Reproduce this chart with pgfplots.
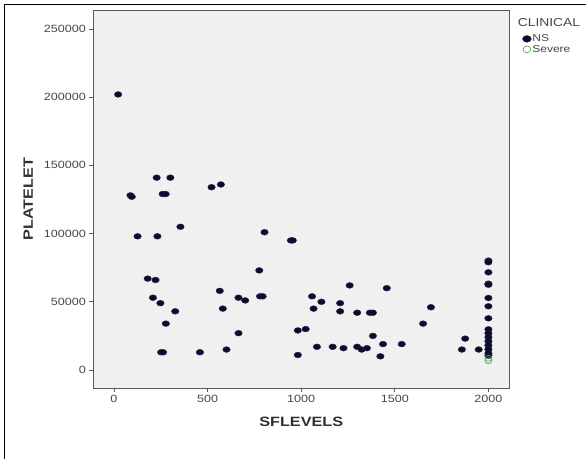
\documentclass[border=0pt]{standalone}
\usepackage{pgfplots}
\pgfplotsset{compat=1.18}
\usepackage{fontspec}
\setmainfont{Liberation Sans}[FakeStretch=1.2]
\definecolor{bg}{RGB}{240,240,240}
\definecolor{axgray}{RGB}{90,90,90}
\definecolor{txtgray}{RGB}{70,70,70}
\definecolor{nsdot}{RGB}{12,12,40}
\definecolor{nsedge}{RGB}{30,35,90}
\definecolor{sevgreen}{RGB}{80,175,80}
\begin{document}
\begin{tikzpicture}
\useasboundingbox (0,0) rectangle (586pt,-459pt);
\draw[black, line width=1pt] (4pt,-459pt) -- (4pt,-4pt) -- (586pt,-4pt);
\begin{axis}[
  at={(93.4pt,-388pt)}, anchor=south west,
  scale only axis, width=415.6pt, height=378pt,
  xmin=-110, xmax=2110, ymin=-13200, ymax=263900,
  axis background/.style={fill=bg},
  axis line style={axgray, line width=0.9pt},
  xtick pos=left, ytick pos=left,
  xtick={0,500,1000,1500,2000},
  ytick={0,50000,100000,150000,200000,250000},
  scaled ticks=false,
  /pgf/number format/.cd, fixed, 1000 sep={}, assume math mode=true, /pgfplots/.cd,
  tick align=outside, major tick length=4pt,
  tick style={axgray, line width=0.9pt},
  ticklabel style={font=\fontsize{10.5}{12}\selectfont, text=txtgray},
  xlabel={SFLEVELS}, ylabel={PLATELET},
  label style={font=\fontsize{13.5}{15}\selectfont\bfseries, text=txtgray!70!black},
  xlabel style={at={(axis description cs:0.5,-0.09)}, anchor=center},
  ylabel style={at={(axis description cs:-0.157,0.5)}, anchor=center},
  clip=false,
  legend style={draw=none, fill=none, at={(1.032,0.938)}, anchor=north west,
    font=\fontsize{10}{10}\selectfont, text=txtgray, row sep=0pt,
    inner sep=0pt, nodes={inner sep=1pt}},
  legend cell align=left,
  legend image code/.code={\draw[#1, mark size=3.4pt] plot coordinates {(0.12cm,0cm)};},
]
\addplot[only marks, mark=*, mark size=2.9pt,
  mark options={xscale=1.3, fill=nsdot, draw=nsedge, line width=0.4pt}]
  coordinates {
  (22,202000) (88,128000) (95,127000) (126,98000) (228,141000) (301,141000)
  (260,129000) (276,129000) (355,105000) (232,98000) (180,67000) (222,66000)
  (208,53000) (248,49000) (327,43000) (277,34000) (252,13000) (262,13000)
  (459,13000) (521,134000) (571,136000) (565,58000) (581,45000) (601,15000)
  (665,27000) (665,53000) (701,51000) (776,73000) (780,54000) (794,54000)
  (804,101000) (945,95000) (955,95000) (982,29000) (1024,30000) (982,11000)
  (1058,54000) (1108,50000) (1066,45000) (1084,17000) (1168,17000)
  (1208,49000) (1208,43000) (1226,16000) (1259,62000) (1299,42000)
  (1299,17000) (1323,15000) (1351,16000) (1367,42000) (1383,42000)
  (1383,25000) (1437,19000) (1423,10000) (1457,60000) (1537,19000)
  (1651,34000) (1693,46000) (1858,15000) (1876,23000) (1948,15000)
  (2000,80200) (2000,79000) (2000,71600) (2000,63300) (2000,62500) (2000,52800)
  (2000,46700) (2000,37900) (2000,29800) (2000,26900) (2000,24000)
  (2000,21000) (2000,18100) (2000,15200) (2000,12200) (2000,10500)
  };
\addlegendentry{NS}
\addplot[only marks, mark=o, mark size=3pt,
  mark options={xscale=1.15, draw=sevgreen, line width=0.7pt}]
  coordinates { (2000,8500) (2000,6800) };
\addlegendentry{Severe}
\node[anchor=west, text=txtgray, font=\fontsize{11.5}{13}\selectfont, inner sep=0pt]
  at (rel axis cs:1.021,0.968) {CLINICAL};
\end{axis}
\end{tikzpicture}
\end{document}
